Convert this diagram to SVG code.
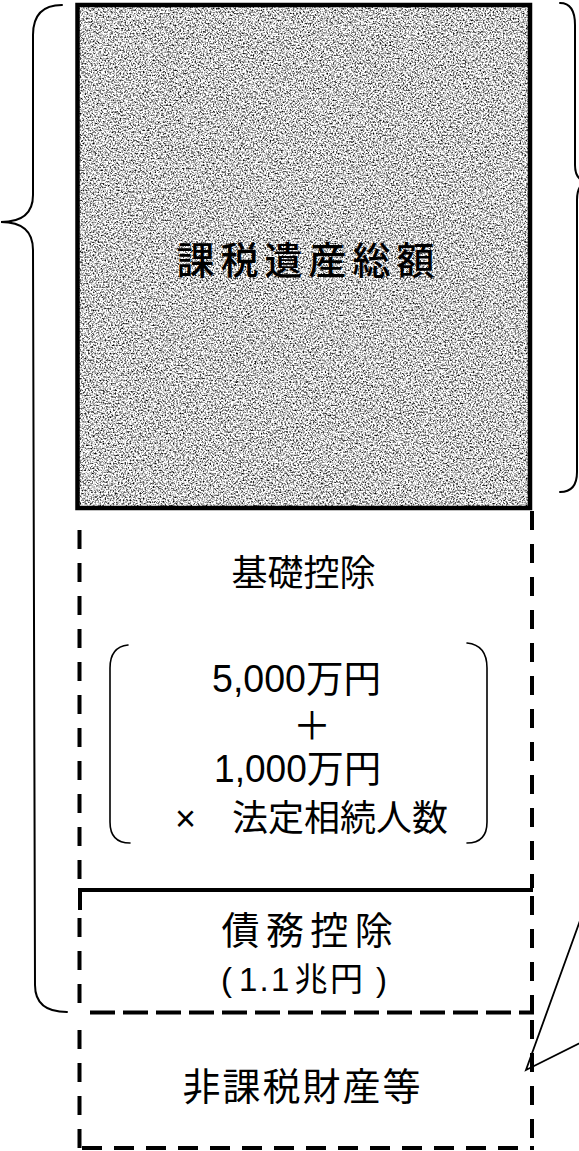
<svg xmlns="http://www.w3.org/2000/svg" width="579" height="1151" viewBox="0 0 579 1151">
<style>
.t{font-family:"Liberation Sans","Noto Sans CJK JP",sans-serif;fill:#000}
.brace{fill:none;stroke:#000;stroke-width:2;stroke-linecap:round}
.paren{fill:none;stroke:#000;stroke-width:1.6;stroke-linecap:round}
.dv{stroke:#000;stroke-width:4;stroke-dasharray:19 14;fill:none}
.dh{stroke:#000;stroke-width:4;stroke-dasharray:25 8;fill:none}
.db{stroke:#000;stroke-width:4;stroke-dasharray:20 12;fill:none}
</style>
<defs>
<filter id="grain" filterUnits="objectBoundingBox" x="0" y="0" width="1" height="1" color-interpolation-filters="sRGB">
<feTurbulence type="fractalNoise" baseFrequency="0.6" numOctaves="2" seed="7" result="n"/>
<feColorMatrix in="n" type="matrix" values="2.5 0 0 0 -0.45  2.5 0 0 0 -0.45  2.5 0 0 0 -0.45  0 0 0 0 1" result="g"/>
<feComposite in="g" in2="SourceGraphic" operator="in"/>
</filter>
</defs>
<rect width="579" height="1151" fill="#fff"/>
<g id="taxable-estate">
<rect x="79" y="7" width="449" height="499" fill="#999" filter="url(#grain)"/>
<rect x="77.5" y="5" width="452.5" height="503" fill="none" stroke="#000" stroke-width="4.5"/>
<text class="t" x="176.5" y="274" font-size="38" letter-spacing="6" font-weight="500">課税遺産総額</text>
</g>
<g id="basic-deduction">
<line class="dv" x1="79.5" y1="530" x2="79.5" y2="888"/>
<line class="dv" x1="532" y1="511" x2="532" y2="888"/>
<text class="t" x="231.5" y="585.5" font-size="36">基礎控除</text>
<path class="paren" d="M128,645 Q110,647 110,668 L110,822 Q110,843 130,843"/>
<path class="paren" d="M467,643 Q487,645 487,668 L487,822 Q487,843 467,843"/>
<text class="t" x="212" y="692" font-size="38" textLength="169" lengthAdjust="spacingAndGlyphs">5,000万円</text>
<text class="t" x="312" y="739" font-size="38" text-anchor="middle">＋</text>
<text class="t" x="214" y="782" font-size="38" textLength="167" lengthAdjust="spacingAndGlyphs">1,000万円</text>
<text class="t" y="830.5" font-size="36"><tspan x="175">×</tspan><tspan x="232">法定相続人数</tspan></text>
</g>
<g id="debt-deduction">
<path d="M80,910 L80,890 L533,890" fill="none" stroke="#000" stroke-width="4"/>
<line class="dv" x1="79.5" y1="918" x2="79.5" y2="1012"/>
<line class="dv" x1="532" y1="896" x2="532" y2="1012"/>
<text class="t" x="221.5" y="944" font-size="38" letter-spacing="6.4">債務控除</text>
<text class="t" y="991" font-size="33" x="221 239 259.5 271 294.5 330 376">(1.1兆円)</text>
</g>
<g id="non-taxable">
<line class="dh" x1="90" y1="1012.5" x2="534" y2="1012.5"/>
<line class="dv" x1="79.5" y1="1030" x2="79.5" y2="1151"/>
<line class="dv" x1="532" y1="1020" x2="532" y2="1151"/>
<line class="db" x1="82" y1="1148" x2="534" y2="1148"/>
<text class="t" x="182.5" y="1099.5" font-size="38" letter-spacing="2">非課税財産等</text>
</g>
<g id="connectors">
<path class="brace" d="M62,5 Q33,5 33,35 L33,195 Q33,222 1,222 Q33,222 33,250 L35,985 Q35,1012 67,1012"/>
<path class="brace" d="M560,3 Q575,3 575,25 L575,165 Q575,182 590,182 Q577,182 577,200 L577,472 Q577,492 560,492"/>
<polyline points="586,904 526,1070 586,1040" fill="none" stroke="#000" stroke-width="1.8"/>
</g>
</svg>
